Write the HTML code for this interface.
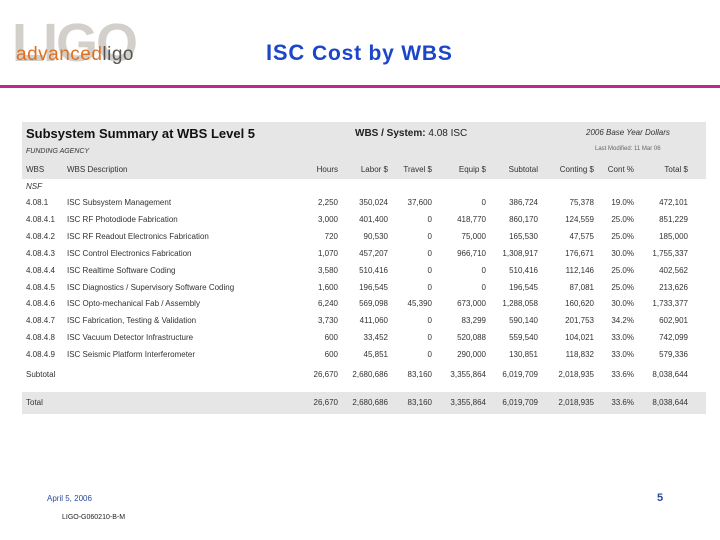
<!DOCTYPE html>
<html><head><meta charset="utf-8"><style>
body{margin:0;width:720px;height:540px;background:#fff;position:relative;overflow:hidden;font-family:"Liberation Sans",sans-serif}
.a{position:absolute;white-space:nowrap}
.t{font-size:8px;color:#333}
.r{text-align:right}
</style></head><body>
<div class="a" style="left:12px;top:12px;font-size:54px;font-weight:bold;color:#d3d0cc;letter-spacing:-2px">LIGO</div>
<div class="a" style="left:16px;top:44px;font-size:19px;letter-spacing:0.5px"><span style="color:#e0701e">advanced</span><span style="color:#555">ligo</span></div>
<div class="a" style="left:266px;top:40px;font-size:22px;color:#1b46c8;letter-spacing:0.8px"><b>ISC</b> <span style="font-weight:bold;font-size:21px">Cost by WBS</span></div>
<div class="a" style="left:0;top:85px;width:720px;height:3px;background:#c0268e"></div>
<div class="a" style="left:22px;top:122px;width:684px;height:57px;background:#e6e6e6"></div>
<div class="a" style="left:22px;top:392px;width:684px;height:22px;background:#e6e6e6"></div>
<div class="a" style="left:26px;top:126px;font-size:13px;font-weight:bold;color:#111">Subsystem Summary at WBS Level 5</div>
<div class="a" style="left:355px;top:128px;font-size:10px;font-weight:bold;color:#222">WBS / System: <span style="font-weight:normal">4.08 ISC</span></div>
<div class="a t" style="left:586px;top:128px;font-style:italic">2006 Base Year Dollars</div>
<div class="a" style="left:595px;top:146px;font-size:6px;color:#666">Last Modified: 11 Mar 06</div>
<div class="a t" style="left:26px;top:148px;font-style:italic;font-size:7px">FUNDING AGENCY</div>
<div class="a t" style="left:26px;top:182px;font-style:italic">NSF</div>
<div id="tbl"></div>
<div class="a" style="left:47px;top:494px;font-size:8px;color:#2a4a9a">April 5, 2006</div>
<div class="a" style="left:62px;top:514px;font-size:7px;color:#222">LIGO-G060210-B-M</div>
<div class="a" style="left:657px;top:492px;font-size:11px;color:#2a4a9a;font-weight:bold">5</div>
<script>
const headers=["Hours","Labor $","Travel $","Equip $","Subtotal","Conting $","Cont %","Total $"];
const wbs=["4.08.1","4.08.4.1","4.08.4.2","4.08.4.3","4.08.4.4","4.08.4.5","4.08.4.6","4.08.4.7","4.08.4.8","4.08.4.9"];
const desc=["ISC Subsystem Management","ISC RF Photodiode Fabrication","ISC RF Readout Electronics Fabrication","ISC Control Electronics Fabrication","ISC Realtime Software Coding","ISC Diagnostics / Supervisory Software Coding","ISC Opto-mechanical Fab / Assembly","ISC Fabrication, Testing & Validation","ISC Vacuum Detector Infrastructure","ISC Seismic Platform Interferometer"];
const hours=["2,250","3,000","720","1,070","3,580","1,600","6,240","3,730","600","600"];
const labor=["350,024","401,400","90,530","457,207","510,416","196,545","569,098","411,060","33,452","45,851"];
const travel=["37,600","0","0","0","0","0","45,390","0","0","0"];
const equip=["0","418,770","75,000","966,710","0","0","673,000","83,299","520,088","290,000"];
const subtotal=["386,724","860,170","165,530","1,308,917","510,416","196,545","1,288,058","590,140","559,540","130,851"];
const conting=["75,378","124,559","47,575","176,671","112,146","87,081","160,620","201,753","104,021","118,832"];
const contp=["19.0%","25.0%","25.0%","30.0%","25.0%","25.0%","30.0%","34.2%","33.0%","33.0%"];
const total=["472,101","851,229","185,000","1,755,337","402,562","213,626","1,733,377","602,901","742,099","579,336"];
const sums=["26,670","2,680,686","83,160","3,355,864","6,019,709","2,018,935","33.6%","8,038,644"];
const colRight=[338,388,432,486,538,594,634,688];
const root=document.getElementById('tbl');
function txt(s,x,y,right,name,extra){
 const d=document.createElement('div');
 d.className='a t'+(right?' r':'');
 d.textContent=s;
 d.style.top=y+'px';
 if(right){d.style.right=(720-x)+'px';}else{d.style.left=x+'px';}
 if(extra)d.style.cssText+=extra;
 
 
 root.appendChild(d);
}
txt("WBS",26,165,false,'col-header-wbs');
txt("WBS Description",67,165,false,'col-header-description');
headers.forEach((h,i)=>txt(h,colRight[i],165,true,'col-header'));
const cols=[hours,labor,travel,equip,subtotal,conting,contp,total];
wbs.forEach((w,r)=>{
 const y=198+r*16.9;
 txt(w,26,y,false,'row-wbs');
 txt(desc[r],67,y,false,'row-description');
 cols.forEach((c,i)=>txt(c[r],colRight[i],y,true,'row-value'));
});
txt("Subtotal",26,370,false,'subtotal-label');
sums.forEach((s,i)=>txt(s,colRight[i],370,true,'subtotal-value'));
txt("Total",26,398,false,'total-label');
sums.forEach((s,i)=>txt(s,colRight[i],398,true,'total-value'));
</script>
</body></html>
